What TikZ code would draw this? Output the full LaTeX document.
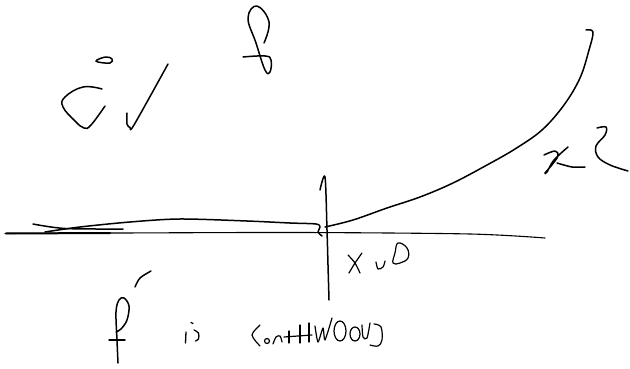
\documentclass[tikz,border=0pt]{standalone}
\begin{document}
\begin{tikzpicture}[x=1pt,y=-1pt,
  ink/.style={draw=black,line width=1.5pt,line cap=round,line join=round},
  thin ink/.style={draw=black,line width=1.1pt,line cap=round,line join=round}]
\useasboundingbox (0,0) rectangle (630,369);
% x axis
\draw[thin ink] plot[smooth] coordinates {(5,233.5) (120,233) (300,232.5) (470,234) (545,238)};
\draw[ink,line width=2pt] (6,233.5) -- (110,233);
% extra stroke near left
\draw[ink] plot[smooth] coordinates {(33,224) (65,228.5) (123,229)};
% curve left part
\draw[ink] plot[smooth,tension=0.5] coordinates {(45,232) (80,227) (130,222) (180,219) (247,221) (290,223) (316,224) (320,227) (318,232) (322,236)};
% curve right part
\draw[ink] plot[smooth,tension=0.6] coordinates {(325,227) (353,220) (387,208) (420,197) (453,183) (487,165) (515,149) (542,130) (564,105) (580,78) (589,50) (593,32) (586,30)};
% vertical axis
\draw[ink] plot[smooth] coordinates {(320,190) (325,177) (327,230) (328,265) (329,300)};
% c with hat and check mark
\draw[ink] plot[smooth,tension=0.7] coordinates {(102,89) (83,87) (65,97) (63,107) (75,121) (84,128) (91,125) (105,106)};
\draw[ink] plot[smooth cycle,tension=0.7] coordinates {(97,60) (106,57) (112,59) (110,63) (98,62)};
\draw[ink] plot[smooth,tension=0.5] coordinates {(127,113) (127,124) (130,127.5) (134,125) (168,64)};
% f-loop at top
\draw[ink] plot[smooth,tension=0.7] coordinates {(264,43) (269,22) (257,6) (248,18) (256,43) (265,70) (270,72) (271,60) (265,56) (243,57)};
% x^2 at right
\draw[ink] plot[smooth,tension=0.6] coordinates {(544,155) (555,151) (558,156) (551,166) (545,173) (547,172) (554,160) (568,147)};
\draw[ink] plot[smooth] coordinates {(557,163) (572,167) (585,167)};
\draw[ink] plot[smooth,tension=0.6] coordinates {(597,128) (606,127) (605,135) (596,146) (598,157) (610,165) (628,171)};
% x u 0 below axis
\draw[ink,line width=1.2pt] plot[smooth] coordinates {(348,255) (355,263) (360,273)};
\draw[ink,line width=1.2pt] plot[smooth] coordinates {(362,253) (355,263) (349,273)};
\draw[ink,line width=1.2pt] plot[smooth] coordinates {(376,262) (378,269) (383,267) (385,261)};
\draw[ink,line width=1.2pt] plot[smooth cycle,tension=0.7] coordinates {(398,243) (407,248) (408,258) (400,263) (393,263) (395,253)};
% f prime
\draw[ink] plot[smooth,tension=0.6] coordinates {(118,363) (117,340) (116,312) (119,300) (124,298) (129,306) (127,320) (121,329) (116,332)};
\draw[ink] (109,340) -- (125,340);
\draw[ink] plot[smooth] coordinates {(135,287) (140,278) (151,271)};
% is
\draw[ink,line width=1.3pt] (186,332) -- (185.5,343);
\draw[ink,line width=1.2pt] (191,322.5) -- (193,323.5);
\draw[ink,line width=1.3pt] plot[smooth] coordinates {(194,330) (198.5,333) (198.5,339) (195.5,341)};
% continuous
\draw[ink,line width=1.2pt] plot[smooth] coordinates {(260,325) (252,335) (260,346)};
\draw[ink,line width=1.2pt] (267,341) circle (2.5);
\draw[ink,line width=1.2pt] plot[smooth] coordinates {(273,344) (276,337) (280,336) (282,342)};
\draw[ink,line width=1.2pt] (289,331) -- (289,343);
\draw[ink,line width=1.2pt] (284,337) -- (312,335);
\draw[ink,line width=1.2pt] (300,325) -- (300,343);
\draw[ink,line width=1.2pt] (309,323) -- (309,342);
\draw[ink,line width=1.2pt] plot[smooth,tension=0.4] coordinates {(315,326) (318,342) (323,328) (325,340) (332,318)};
\draw[ink,line width=1.2pt] (340,331) ellipse (6 and 10);
\draw[ink,line width=1.2pt] (355,334) ellipse (5 and 7);
\draw[ink,line width=1.2pt] plot[smooth] coordinates {(362,325) (363,337) (367,338) (370,323)};
\draw[ink,line width=1.2pt] plot[smooth,tension=0.6] coordinates {(374,324) (381,327) (382,340) (378,346) (370,345)};
\end{tikzpicture}
\end{document}
